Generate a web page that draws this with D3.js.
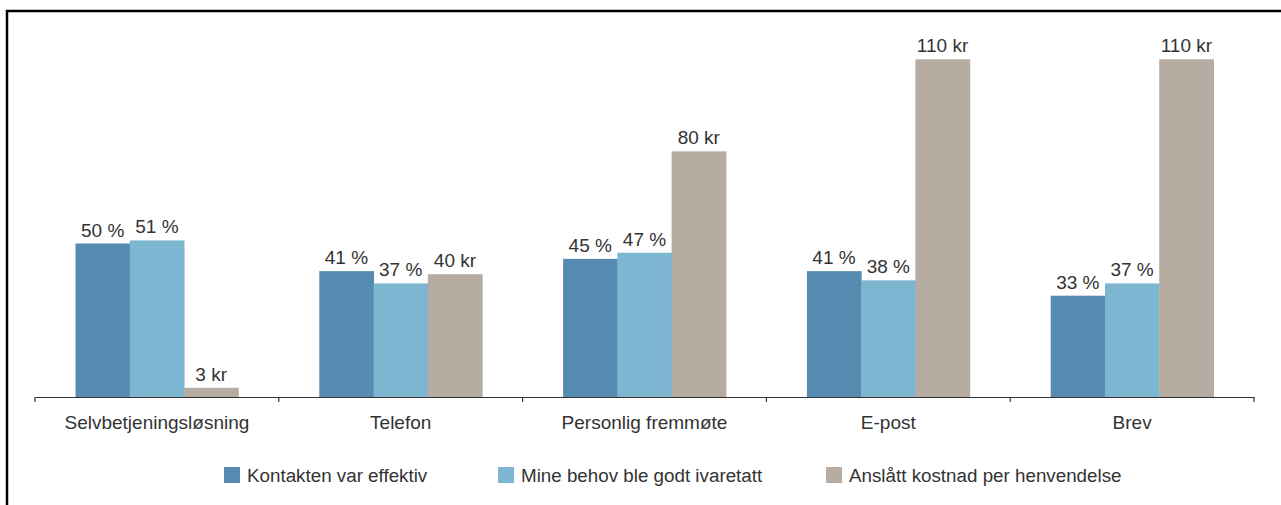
<!DOCTYPE html>
<html>
<head>
<meta charset="utf-8">
<script src="https://cdn.jsdelivr.net/npm/d3@7"></script>
<style>
  html, body { margin: 0; padding: 0; background: #fff; }
  svg { display: block; font-family: "Liberation Sans", Arial, sans-serif; }
</style>
</head>
<body>
<svg id="chart" width="1281" height="505"></svg>
<script>
// Kanaler og seriene som sammenlignes
const categories = ["Selvbetjeningsløsning", "Telefon", "Personlig fremmøte", "E-post", "Brev"];
const seriesNames = ["Kontakten var effektiv", "Mine behov ble godt ivaretatt", "Anslått kostnad per henvendelse"];
const effektiv = [50, 41, 45, 41, 33];
const ivaretatt = [51, 37, 47, 38, 37];
const kostnad = [3, 40, 80, 110, 110];
const units = [" %", " %", " kr"];
const colors = ["#558bb0", "#7db6d1", "#b6aca1"];

const seriesValues = [effektiv, ivaretatt, kostnad];

const svg = d3.select("#chart");

// Ramme: topp- og venstrekant
svg.append("path")
  .attr("d", "M7,505 V11 H1281")
  .attr("fill", "none")
  .attr("stroke", "#000")
  .attr("stroke-width", 2.5);

const x0 = d3.scaleBand().domain(categories).range([35, 1254]).padding(0);
const x1 = d3.scaleBand().domain(d3.range(seriesNames.length))
  .range([40.5, x0.bandwidth() - 40.5]).padding(0);
const y = d3.scaleLinear().domain([0, 120]).range([397, 28.6]);

const groups = svg.append("g").selectAll("g")
  .data(categories)
  .join("g")
  .attr("transform", d => `translate(${x0(d)},0)`);

groups.each(function(cat, ci) {
  const g = d3.select(this);
  seriesValues.forEach((vals, si) => {
    const v = vals[ci];
    g.append("rect")
      .attr("x", x1(si))
      .attr("width", x1.bandwidth() + 0.5)
      .attr("y", y(v))
      .attr("height", y(0) - y(v))
      .attr("fill", colors[si]);
    g.append("text")
      .attr("x", x1(si) + x1.bandwidth() / 2)
      .attr("y", y(v) - 7)
      .attr("text-anchor", "middle")
      .attr("font-size", 19)
      .attr("fill", "#333")
      .text(v + units[si]);
  });
});

// Kategoriakse
const axis = d3.axisBottom(x0).tickSize(0).tickPadding(0);
const axG = svg.append("g").attr("transform", "translate(0,397)").call(axis);
axG.select(".domain").attr("stroke", "#333").attr("stroke-width", 1.2);
axG.selectAll(".tick text")
  .attr("font-size", 19)
  .attr("font-family", "Liberation Sans, Arial, sans-serif")
  .attr("fill", "#333")
  .attr("dy", "0")
  .attr("y", 32);
// Skillestreker mellom kategoriene
const bounds = categories.map(c => x0(c)).concat([x0(categories[categories.length - 1]) + x0.bandwidth()]);
axG.selectAll(".sep")
  .data(bounds)
  .join("line")
  .attr("class", "sep")
  .attr("x1", d => d).attr("x2", d => d)
  .attr("y1", 0).attr("y2", 5)
  .attr("stroke", "#333")
  .attr("stroke-width", 1.2);

// Forklaring
const legendX = [224, 498, 826];
const legend = svg.append("g").attr("transform", "translate(0,467)");
seriesNames.forEach((name, i) => {
  legend.append("rect")
    .attr("x", legendX[i]).attr("y", 0)
    .attr("width", 16).attr("height", 16)
    .attr("fill", colors[i]);
  legend.append("text")
    .attr("x", legendX[i] + 23).attr("y", 15)
    .attr("font-size", 18.8)
    .attr("fill", "#333")
    .text(name);
});
</script>
</body>
</html>
